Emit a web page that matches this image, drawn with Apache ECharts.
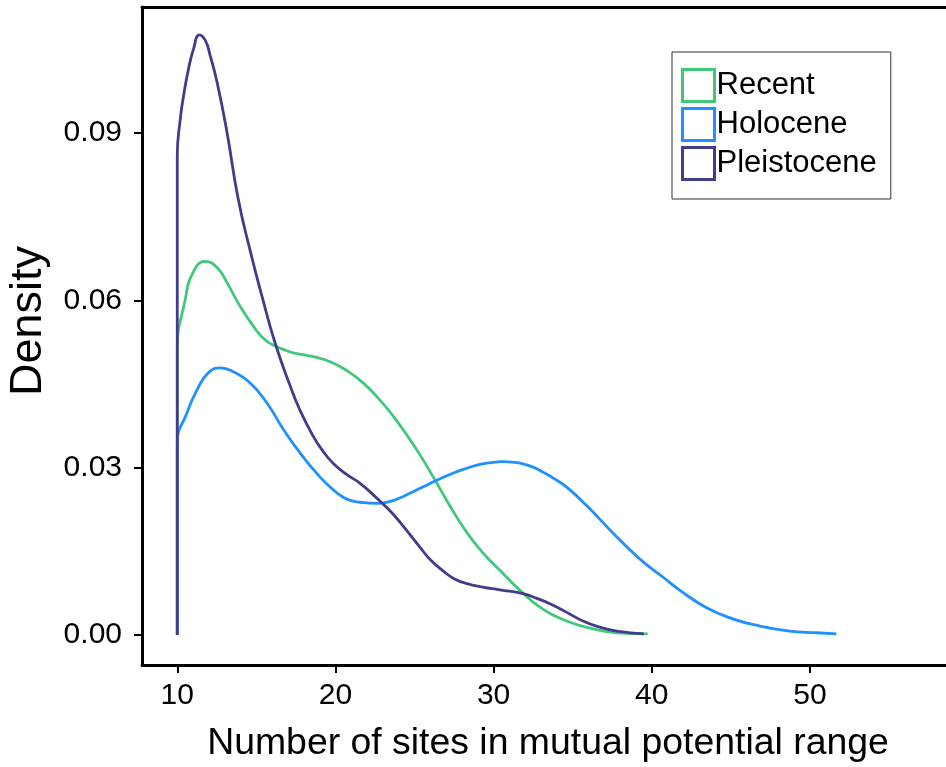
<!DOCTYPE html>
<html>
<head>
<meta charset="utf-8">
<script src="https://cdn.jsdelivr.net/npm/echarts@6/dist/echarts.min.js"></script>
<style>
  html, body { margin: 0; padding: 0; background: #fff; }
  #chart { width: 946px; height: 767px; }
</style>
</head>
<body>
<div id="chart"></div>
<script>
// Kernel density estimates of the number of sites in mutual potential range
const seriesNames = ['Recent', 'Holocene', 'Pleistocene'];
const seriesColors = ['#40c97a', '#1e90ff', '#433b8b'];

const recentX = [10, 10, 10.5, 11.0, 11.77, 12.51, 13.14, 13.98, 15.03, 15.6, 16.19, 16.8, 17.33, 18.59, 19.67, 20.72, 21.75, 22.82, 23.88, 25.14, 26.17, 27.25, 28.30, 29.33, 30.40, 31.67, 32.93, 34.62, 36.28, 37.80, 39.75];
const recentY = [0, 0.0511, 0.0601, 0.0650, 0.0670, 0.0659, 0.0632, 0.0589, 0.0545, 0.0528, 0.0518, 0.0511, 0.0506, 0.0499, 0.0490, 0.0474, 0.0452, 0.0421, 0.0384, 0.0332, 0.0284, 0.0231, 0.0184, 0.0147, 0.0116, 0.0080, 0.0050, 0.0025, 0.0011, 0.0004, 0.0002];

const holoceneX = [10, 10, 10.61, 11.24, 11.96, 12.72, 13.54, 14.61, 15.67, 16.70, 17.77, 19.03, 19.8, 20.49, 21.0, 21.56, 22.6, 23.4, 24.09, 24.7, 25.35, 26.61, 27.5, 28.30, 29.0, 29.56, 30.1, 30.61, 31.2, 31.86, 32.5, 33.12, 33.9, 34.62, 35.88, 37.54, 39.25, 40.7, 41.78, 43.46, 45.12, 46.83, 48.72, 50.41, 51.67];
const holoceneY = [0, 0.0345, 0.0398, 0.0439, 0.0470, 0.0479, 0.0472, 0.0452, 0.0416, 0.0369, 0.0326, 0.0283, 0.0262, 0.0247, 0.0241, 0.0238, 0.0236, 0.0239, 0.0246, 0.0254, 0.0263, 0.0280, 0.0291, 0.0299, 0.0305, 0.0308, 0.0310, 0.0311, 0.0310, 0.0307, 0.0301, 0.0292, 0.0279, 0.0265, 0.0232, 0.0183, 0.0136, 0.0104, 0.0080, 0.0049, 0.0029, 0.0016, 0.0007, 0.0004, 0.0002];

const pleistoceneX = [10, 10, 10.19, 10.40, 10.71, 11.03, 11.39, 11.77, 12.08, 12.51, 13.14, 13.85, 14.60, 15.35, 16.18, 17.12, 17.76, 18.58, 19.2, 19.85, 20.7, 21.56, 22.63, 23.4, 24.09, 25.35, 26.0, 26.80, 27.5, 28.32, 29.3, 30.40, 31.86, 32.7, 33.56, 34.6, 35.65, 36.7, 37.80, 39.5];
const pleistoceneY = [0, 0.0859, 0.0925, 0.0967, 0.1015, 0.1051, 0.1076, 0.1066, 0.1039, 0.0992, 0.0902, 0.0782, 0.0690, 0.0608, 0.0524, 0.0448, 0.0403, 0.0357, 0.0330, 0.0308, 0.0288, 0.0272, 0.0245, 0.0224, 0.0202, 0.0157, 0.0135, 0.0115, 0.0101, 0.0092, 0.0086, 0.0081, 0.0074, 0.0066, 0.0056, 0.0041, 0.0025, 0.0014, 0.0007, 0.0002];

const xTicks = [10, 20, 30, 40, 50];
const yTicks = [0, 0.03, 0.06, 0.09];

const seriesX = [recentX, holoceneX, pleistoceneX];
const seriesY = [recentY, holoceneY, pleistoceneY];

const FONT = 'Liberation Sans, Arial, sans-serif';

const chart = echarts.init(document.getElementById('chart'), null, { renderer: 'canvas' });

const series = seriesNames.map((name, i) => ({
  name: name,
  type: 'line',
  xAxisIndex: 0,
  yAxisIndex: 0,
  data: seriesX[i].map((x, j) => [x, seriesY[i][j]]),
  showSymbol: false,
  smooth: 0.5,
  lineStyle: { color: seriesColors[i], width: 2.8 },
  itemStyle: { color: seriesColors[i] },
  z: 2 + i
}));

chart.setOption({
  animation: false,
  backgroundColor: '#fff',
  grid: { left: 142, right: 0, top: 7, bottom: 102, containLabel: false, outerBoundsMode: 'none' },
  legend: {
    orient: 'vertical',
    left: 672,
    top: 52,
    padding: [16, 14, 18, 9],
    itemWidth: 32,
    itemHeight: 32,
    itemGap: 4,
    icon: 'rect',
    borderColor: '#333',
    borderWidth: 1,
    backgroundColor: '#fff',
    textStyle: { fontFamily: FONT, fontSize: 31, lineHeight: 34, color: '#000', padding: [0, 0, 0, -3] },
    data: seriesNames.map((n, i) => ({
      name: n,
      icon: 'rect',
      itemStyle: { color: '#fff', borderColor: seriesColors[i], borderWidth: 3 },
      lineStyle: { opacity: 0 }
    }))
  },
  xAxis: [{
    type: 'value',
    min: 7.77,
    max: 58.6,
    position: 'bottom',
    name: 'Number of sites in mutual potential range',
    nameLocation: 'middle',
    nameGap: 60,
    nameTextStyle: { fontFamily: FONT, fontSize: 37.4, color: '#000', padding: [0, 0, 0, 8] },
    axisLine: { show: true, onZero: false, lineStyle: { color: '#000', width: 3 } },
    axisTick: { show: true, length: 8, lineStyle: { color: '#000', width: 2 }, customValues: xTicks },
    axisLabel: { fontFamily: FONT, fontSize: 30, color: '#000', margin: 16, customValues: xTicks },
    splitLine: { show: false }
  }, {
    type: 'value',
    min: 7.77,
    max: 58.6,
    position: 'top',
    axisLine: { show: true, onZero: false, lineStyle: { color: '#000', width: 3 } },
    axisTick: { show: false },
    axisLabel: { show: false },
    splitLine: { show: false }
  }],
  yAxis: [{
    type: 'value',
    min: -0.00538,
    max: 0.1126,
    name: 'Density',
    nameLocation: 'middle',
    nameGap: 91,
    nameTextStyle: { fontFamily: FONT, fontSize: 45, color: '#000', padding: [0, 0, 0, 30] },
    axisLine: { show: true, onZero: false, lineStyle: { color: '#000', width: 3 } },
    axisTick: { show: true, length: 8, lineStyle: { color: '#000', width: 2 }, customValues: yTicks },
    axisLabel: {
      fontFamily: FONT, fontSize: 30, color: '#000', margin: 20,
      customValues: yTicks,
      formatter: v => v.toFixed(2)
    },
    splitLine: { show: false }
  }],
  series: series
});
</script>
</body>
</html>
